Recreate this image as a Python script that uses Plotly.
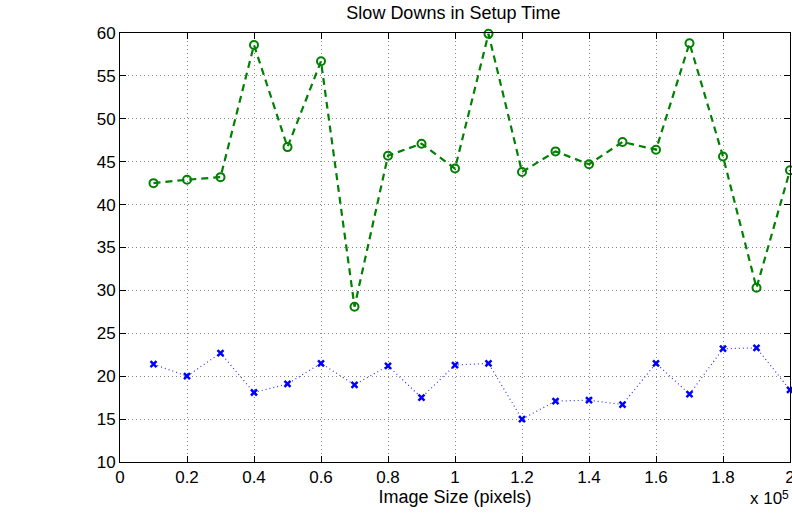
import plotly.graph_objects as go

x_vals = [0.1, 0.2, 0.3, 0.4, 0.5, 0.6, 0.7, 0.8, 0.9, 1.0,
          1.1, 1.2, 1.3, 1.4, 1.5, 1.6, 1.7, 1.8, 1.9, 2.0]
green_vals = [42.5, 42.9, 43.2, 58.6, 46.7, 56.7, 28.1, 45.7, 47.1, 44.2,
              59.9, 43.8, 46.2, 44.7, 47.3, 46.4, 58.8, 45.6, 30.3, 44.0]
blue_vals = [21.4, 20.0, 22.7, 18.1, 19.1, 21.5, 19.0, 21.2, 17.5, 21.3,
             21.5, 15.0, 17.1, 17.2, 16.7, 21.5, 17.9, 23.2, 23.3, 18.4]
x_ticks = [0, 0.2, 0.4, 0.6, 0.8, 1.0, 1.2, 1.4, 1.6, 1.8, 2.0]
x_tick_text = ["0", "0.2", "0.4", "0.6", "0.8", "1", "1.2", "1.4", "1.6", "1.8", "2"]
y_ticks = [10, 15, 20, 25, 30, 35, 40, 45, 50, 55, 60]

font = "Liberation Sans, Arial, sans-serif"

fig = go.Figure()
fig.add_trace(go.Scatter(
    x=x_vals, y=blue_vals, mode="lines+markers",
    line=dict(color="#3333ff", width=1.2, dash="1px,3px"),
    marker=dict(symbol="x-thin-open", size=6, color="#0000ff",
                line=dict(color="#0000ff", width=2.5)),
    cliponaxis=False, showlegend=False))
fig.add_trace(go.Scatter(
    x=x_vals, y=green_vals, mode="lines+markers",
    line=dict(color="#008000", width=2.2, dash="7px,5px"),
    marker=dict(symbol="circle-open", size=8, color="#008000",
                line=dict(color="#008000", width=2)),
    cliponaxis=False, showlegend=False))

axis_common = dict(
    showline=True, linecolor="black", linewidth=1, mirror="ticks",
    ticks="inside", ticklen=6, tickcolor="black",
    showgrid=True, gridcolor="#888888", griddash="1px,3px", gridwidth=1,
    zeroline=False, automargin=False,
    tickfont=dict(family=font, size=17, color="black"),
)

fig.update_layout(
    width=792, height=514,
    margin=dict(l=120, r=2, t=33, b=52),
    paper_bgcolor="white", plot_bgcolor="white",
    title=dict(text="Slow Downs in Setup Time", x=0.5725, xanchor="center",
               y=0.975, yanchor="middle", automargin=False,
               font=dict(family=font, size=18, color="black")),
    xaxis=dict(range=[0, 2], tickvals=x_ticks, ticktext=x_tick_text,
               ticklabeloverflow="allow",
               title=dict(text="Image Size (pixels)", standoff=0,
                          font=dict(family=font, size=18, color="black")),
               **axis_common),
    yaxis=dict(range=[10, 60], tickvals=y_ticks, **axis_common),
    annotations=[
        dict(text="x 10", xref="paper", yref="paper",
             x=0.989, y=-0.11, xanchor="right", yanchor="bottom",
             showarrow=False, borderpad=0,
             font=dict(family=font, size=17, color="black")),
        dict(text="5", xref="paper", yref="paper",
             x=1.0, y=-0.058, xanchor="right", yanchor="top",
             showarrow=False, borderpad=0,
             font=dict(family=font, size=12, color="black")),
    ],
)

fig.write_html("out.html")
